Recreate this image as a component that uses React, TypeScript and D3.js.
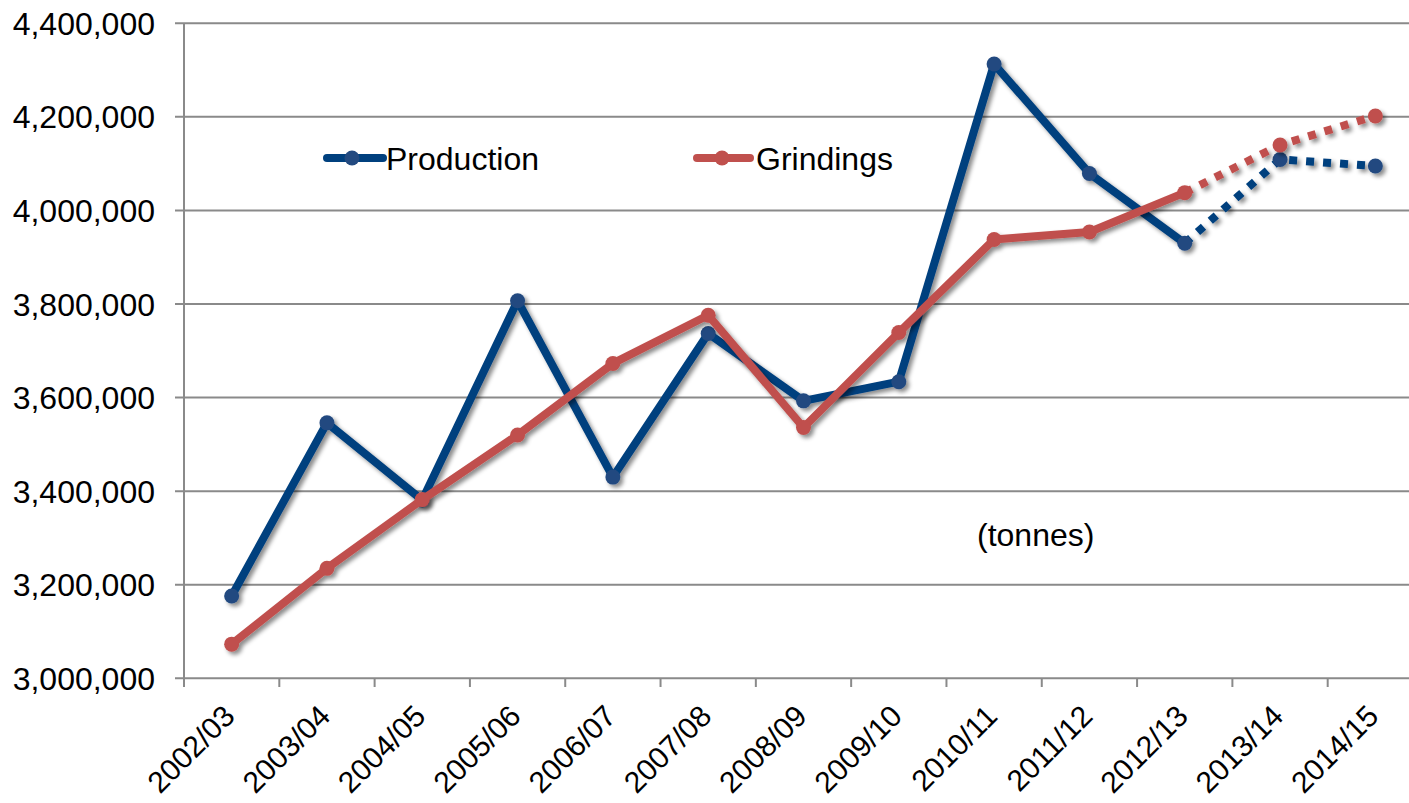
import React from "react";
import * as d3 from "d3";

const categories = ["2002/03","2003/04","2004/05","2005/06","2006/07","2007/08","2008/09","2009/10","2010/11","2011/12","2012/13","2013/14","2014/15"];
const production = [3176000,3546000,3381000,3807000,3430000,3737000,3593000,3634000,4313000,4079000,3930000,4109000,4095000];
const grindings = [3073000,3235000,3382000,3520000,3673000,3776000,3536000,3739000,3938000,3954000,4038000,4140000,4202000];
const yTicks = [3000000,3200000,3400000,3600000,3800000,4000000,4200000,4400000];
const forecastFrom = 10;

const W = 1409, H = 803;
const FONT = "Liberation Sans, Arial, sans-serif";

export default function App() {
  const x = d3.scaleBand<string>().domain(categories).range([184, 1423]).padding(0);
  const y = d3.scaleLinear().domain([3000000, 4400000]).range([678.3, 23.3]);
  const cx = (c: string) => (x(c) as number) + x.bandwidth() / 2;
  const line = d3.line<[string, number]>().x(d => cx(d[0])).y(d => y(d[1]));
  const fmt = d3.format(",");

  const series = [
    { name: "Production", values: production, line: "#00407e", marker: "#234a80", lx1: 327, lx2: 383, mx: 352, tx: 386 },
    { name: "Grindings", values: grindings, line: "#c0504d", marker: "#c0504d", lx1: 697, lx2: 750, mx: 722, tx: 756 },
  ];

  const pairs = (vals: number[]) => categories.map((c, i) => [c, vals[i]] as [string, number]);

  return (
    <svg width={W} height={H} style={{ position: "absolute", left: 0, top: 0, background: "#fff" }} fontFamily={FONT}>
      <defs>
        <filter id="sh" x="-10%" y="-10%" width="130%" height="130%">
          <feDropShadow dx="3" dy="3" stdDeviation="2" floodColor="#000" floodOpacity="0.45" />
        </filter>
      </defs>
      {yTicks.map(t => (
        <g key={t}>
          <line x1={175} x2={1423} y1={y(t)} y2={y(t)} stroke="#8a8a8a" strokeWidth={2} />
          <text x={155} y={y(t)} dy="0.36em" textAnchor="end" fontSize={32} fill="#000">{fmt(t)}</text>
        </g>
      ))}
      <line x1={184} x2={184} y1={23.3} y2={687} stroke="#8a8a8a" strokeWidth={2} />
      {categories.map((c, i) => (
        <line key={"t" + i} x1={(x(c) as number)} x2={(x(c) as number)} y1={678} y2={687} stroke="#8a8a8a" strokeWidth={2} />
      ))}
      {categories.map(c => (
        <text key={"l" + c} transform={`translate(${cx(c) + 5},${718}) rotate(-45)`} textAnchor="end" fontSize={30} fill="#000">{c}</text>
      ))}
      {series.map(s => {
        const p = pairs(s.values);
        return (
          <g key={s.name} filter="url(#sh)">
            <path d={line(p.slice(0, forecastFrom + 1)) as string} fill="none" stroke={s.line} strokeWidth={8} strokeLinejoin="round" />
            <path d={line(p.slice(forecastFrom)) as string} fill="none" stroke={s.line} strokeWidth={8} strokeDasharray="8 9" />
            {p.map(d => (
              <circle key={d[0]} cx={cx(d[0])} cy={y(d[1])} r={7.5} fill={s.marker} />
            ))}
          </g>
        );
      })}
      {series.map(s => (
        <g key={"lg" + s.name}>
          <line x1={s.lx1} x2={s.lx2} y1={158} y2={158} stroke={s.line} strokeWidth={8} strokeLinecap="round" />
          <circle cx={s.mx} cy={158} r={7.5} fill={s.marker} />
          <text x={s.tx} y={158} dy="0.36em" fontSize={32} fill="#000">{s.name}</text>
        </g>
      ))}
      <text x={977} y={546} fontSize={32} fill="#000">(tonnes)</text>
    </svg>
  );
}
